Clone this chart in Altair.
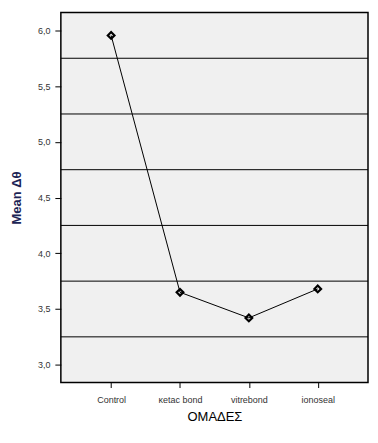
import altair as alt
import pandas as pd

groups = ["Control", "κetac bond", "vitrebond", "ionoseal"]
means = [5.955, 3.65, 3.42, 3.68]
grid_values = [3.25, 3.75, 4.25, 4.75, 5.25, 5.75]
y_ticks = [3.0, 3.5, 4.0, 4.5, 5.0, 5.5, 6.0]

df = pd.DataFrame({"group": groups, "mean": means})
gdf = pd.DataFrame({"g": grid_values})

yscale = alt.Scale(domain=[2.84, 6.16], nice=False, zero=False)
xscale = alt.Scale(domain=groups, padding=0.73)

yaxis = alt.Axis(title="Mean  Δθ", values=y_ticks, format=".1f",
                 labelExpr="replace(datum.label, '.', ',')",
                 tickColor="black", tickSize=6, domain=False, grid=False,
                 labelFont="Liberation Sans", labelFontSize=9, labelColor="#333333",
                 labelPadding=5,
                 titleFont="Liberation Sans", titleFontSize=13, titleFontWeight="bold",
                 titleColor="#1c2455", titlePadding=14)

grid = alt.Chart(gdf).mark_rule(color="black", strokeWidth=1).encode(
    y=alt.Y("g:Q", scale=yscale, axis=yaxis, title="Mean  Δθ")
)

base = alt.Chart(df).encode(
    x=alt.X("group:N", scale=xscale, sort=groups,
            axis=alt.Axis(title="ΟΜΑΔΕΣ", labelAngle=0, tickColor="black", tickSize=5,
                          domain=False, labelFont="Liberation Sans", labelFontSize=9,
                          labelColor="#333333", labelPadding=8,
                          titleFont="Liberation Sans", titleFontSize=13, titleFontWeight="normal",
                          titleColor="black", titlePadding=6)),
    y=alt.Y("mean:Q", scale=yscale, axis=yaxis, title="Mean  Δθ"),
)

line = base.mark_line(color="black", strokeWidth=1)
pts = base.mark_point(shape="diamond", filled=False, color="black", strokeWidth=2.2, size=45, opacity=1)

chart = (grid + line + pts).properties(
    width=308, height=371,
    autosize=alt.AutoSizeParams(type="none"),
    padding={"left": 53, "top": 4, "right": 2, "bottom": 40},
    background="white",
).configure_view(fill="#f0f0f0", stroke="black", strokeWidth=1.5)

chart.save("out.html", embed_options={"renderer": "svg", "actions": False})
